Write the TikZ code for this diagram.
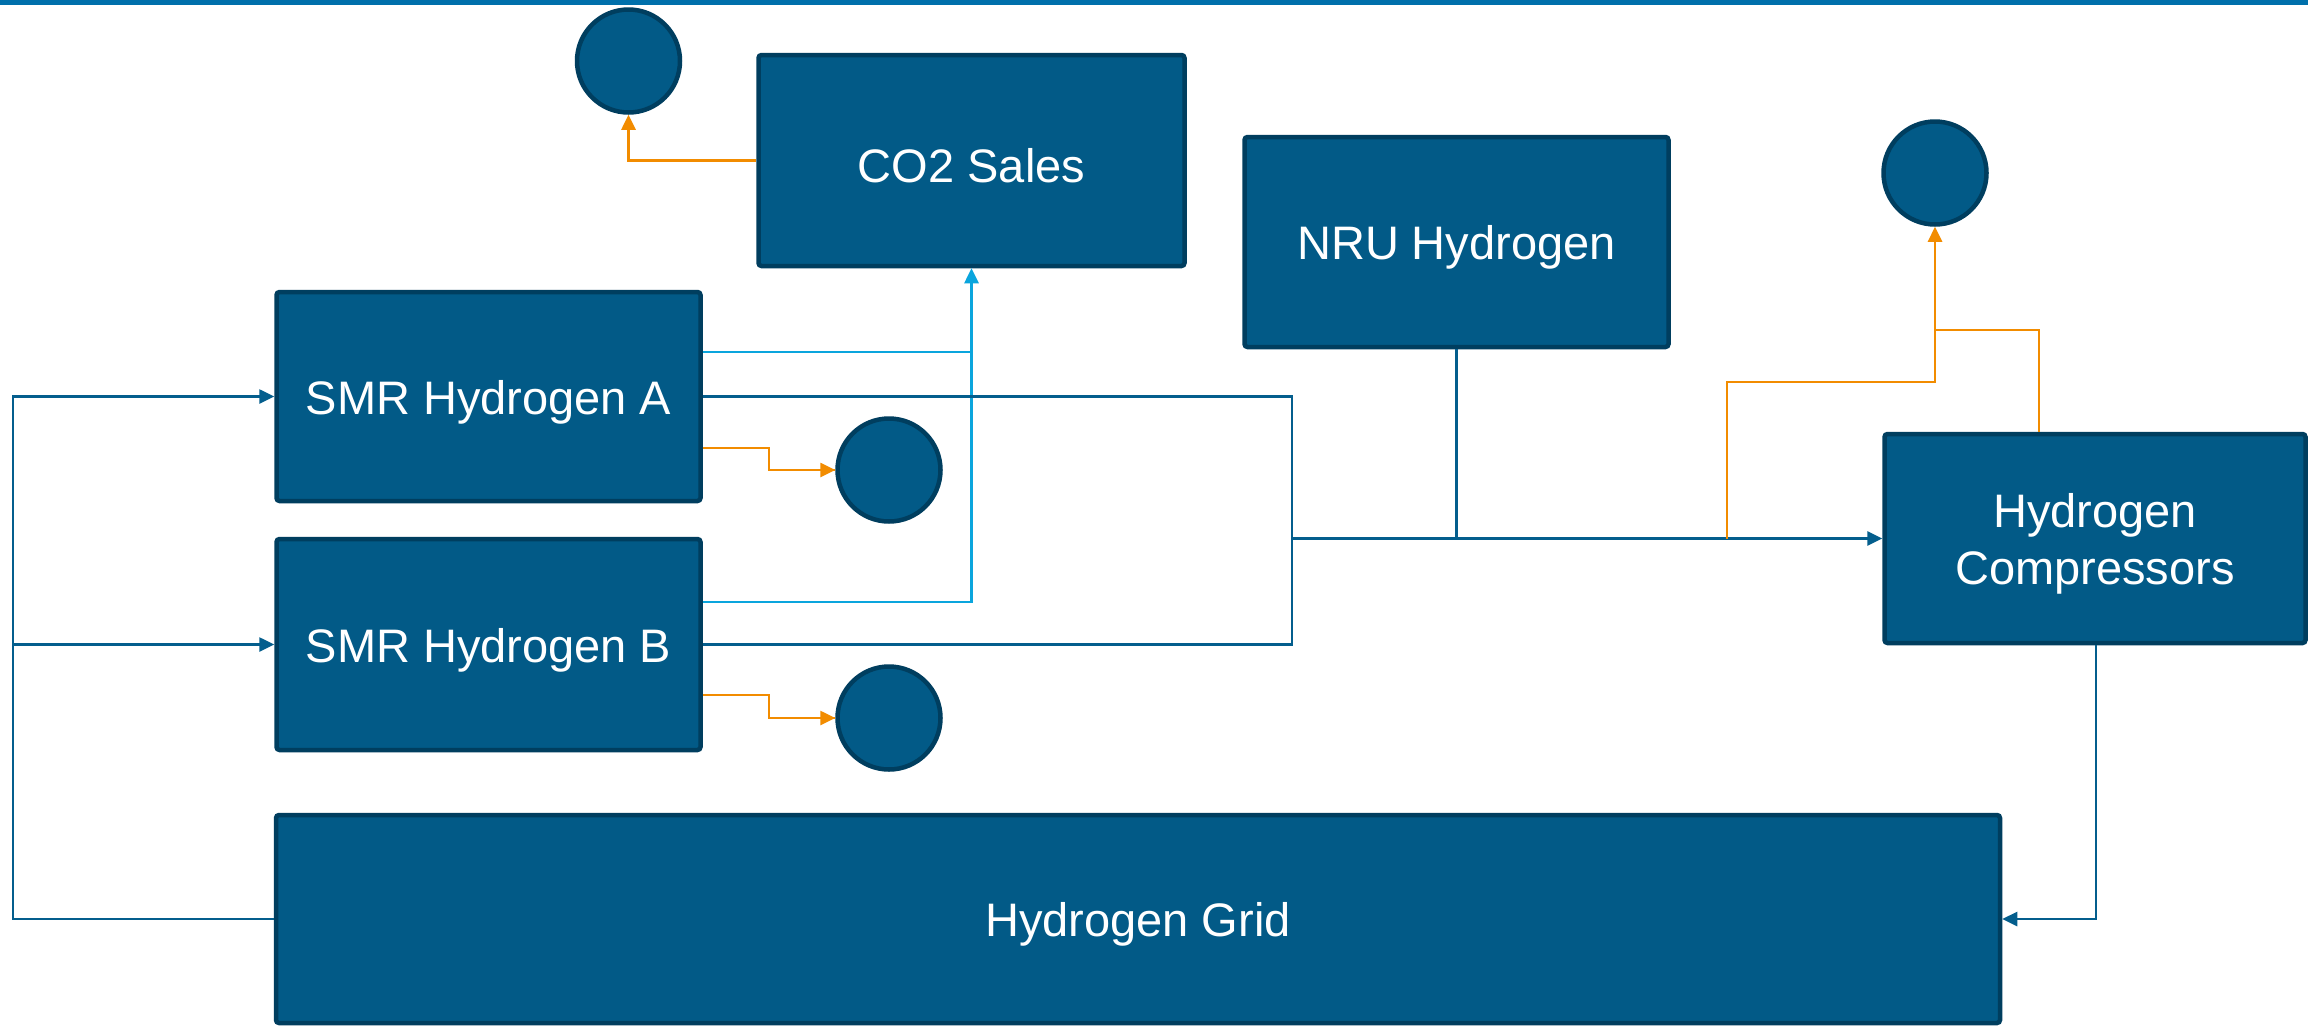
\documentclass[tikz,border=0pt]{standalone}
\usepackage{fontspec}
\setmainfont{Liberation Sans}
\usetikzlibrary{arrows.meta}
\definecolor{boxfill}{HTML}{025A87}
\definecolor{boxborder}{HTML}{003E5F}
\definecolor{flowblue}{HTML}{045E8D}
\definecolor{topbar}{HTML}{0070AB}
\definecolor{flowcyan}{HTML}{0AA5DD}
\definecolor{floworange}{HTML}{F28C00}
\newcommand{\lowstrut}{\rule{0pt}{45pt}}
\tikzset{
  procbox/.style={draw=boxborder, line width=4.5pt, fill=boxfill, rounded corners=3pt,
    text=white, align=center, inner sep=0pt,
    font=\fontsize{47}{57}\selectfont},
  sinkcirc/.style={circle, draw=boxborder, line width=4.5pt, fill=boxfill,
    minimum size=103pt, inner sep=0pt},
  tip/.style={-{Triangle[length=15pt,width=14pt]}},
  blueflow/.style={draw=flowblue, line width=2.6pt},
  cyanflow/.style={draw=flowcyan, line width=2.6pt},
  orangeflow/.style={draw=floworange, line width=2.6pt},
}
\begin{document}
\begin{tikzpicture}[x=1pt, y=-1pt]
\clip (0,0) rectangle (2308,1026);
\useasboundingbox (0,0) rectangle (2308,1026);
\fill[white] (0,0) rectangle (2308,1026);
\fill[topbar] (0,0) rectangle (2308,5);

% boxes
\node[procbox, minimum width=426pt, minimum height=211pt] (co2) at (971.5,160.5) {\lowstrut CO2 Sales};
\node[procbox, minimum width=424pt, minimum height=209pt] (smra) at (488.5,396.5) {\lowstrut SMR Hydrogen A};
\node[procbox, minimum width=424pt, minimum height=211pt] (smrb) at (488.5,644.5) {\lowstrut SMR Hydrogen B};
\node[procbox, minimum width=424pt, minimum height=210pt] (nru) at (1456.5,242) {\lowstrut NRU Hydrogen};
\node[procbox, minimum width=421pt, minimum height=209pt] (comp) at (2095,538.5) {\lowstrut Hydrogen\\Compressors};
\node[procbox, minimum width=1724pt, minimum height=208pt] (grid) at (1138,919) {\lowstrut Hydrogen Grid};

% sinks
\node[sinkcirc] (c1) at (628.5,61) {};
\node[sinkcirc] (c2) at (889,470) {};
\node[sinkcirc] (c3) at (889,718) {};
\node[sinkcirc] (c4) at (1935,173) {};

% junction coordinates
\coordinate (mj) at (1292,538.5);
\coordinate (cj) at (971.5,352);
\coordinate (gl) at (13,919);
\coordinate (oj) at (1935,330);
\coordinate (cd) at (2096,645);

% CO2 flows
\draw[orangeflow, tip] (co2.west) -| (c1.south);
\draw[cyanflow, tip] (smra.east |- cj) -- (cj) -- (co2.south);
\draw[cyanflow] (smrb.east |- 0,602) -| (cj);

% hydrogen to compressors
\draw[blueflow] (smra.east) -| (mj);
\draw[blueflow] (smrb.east) -| (mj);
\draw[blueflow, tip] (mj) -- (comp.west);
\draw[blueflow] (nru.south) -- (nru.south |- mj);

% orange vents
\draw[orangeflow] (smra.east |- 0,448) -- (769,448) |- (c2.west);
\draw[orangeflow, tip] (769,470) -- (c2.west);
\draw[orangeflow] (smrb.east |- 0,695) -- (769,695) |- (c3.west);
\draw[orangeflow, tip] (769,718) -- (c3.west);
\draw[orangeflow, tip] (1727,538.5) |- (1935,382) -- (c4.south);
\draw[orangeflow] (comp.north -| 2039,0) |- (oj);

% compressors to grid
\draw[blueflow, tip] (cd) |- (grid.east);

% grid back to SMRs
\draw[blueflow, tip] (grid.west) -- (gl) |- (smra.west);
\draw[blueflow, tip] (gl |- smrb.west) -- (smrb.west);
\end{tikzpicture}
\end{document}
